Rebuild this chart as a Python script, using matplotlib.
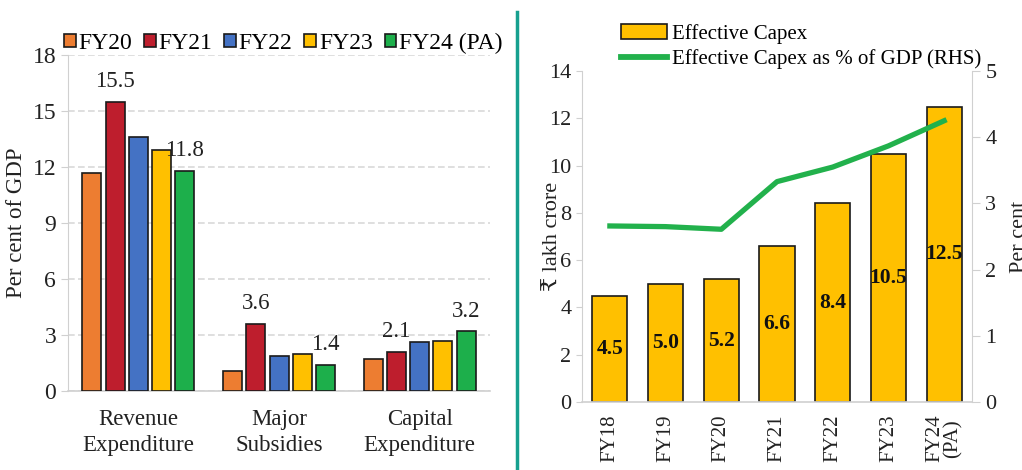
import numpy as np
import matplotlib
matplotlib.use("Agg")
import matplotlib.pyplot as plt
from matplotlib.patches import Patch
from matplotlib.lines import Line2D

plt.rcParams['font.family'] = ['Liberation Serif', 'DejaVu Serif']

# left panel data
groups = ["Revenue\nExpenditure", "Major\nSubsidies", "Capital\nExpenditure"]
years = ["FY20", "FY21", "FY22", "FY23", "FY24 (PA)"]
fy20 = [11.7, 1.1, 1.7]
fy21 = [15.5, 3.6, 2.1]
fy22 = [13.6, 1.9, 2.6]
fy23 = [12.9, 2.0, 2.7]
fy24 = [11.8, 1.4, 3.2]
bar_colors = ["#ED7D31", "#BE1E2D", "#4472C4", "#FFC000", "#1DAF4B"]
labelled = {1: [0, 1, 2], 4: [0, 1, 2]}  # series index -> groups with value label

# right panel data
cap_years = ["FY18", "FY19", "FY20", "FY21", "FY22", "FY23", "FY24\n(PA)"]
eff_capex = [4.5, 5.0, 5.2, 6.6, 8.4, 10.5, 12.5]
capex_pct_gdp = [2.66, 2.65, 2.61, 3.33, 3.55, 3.87, 4.25]

fig = plt.figure(figsize=(10.22, 4.70), dpi=100)
grey = "#d0d0d0"
txt = "#222222"

# ---- left chart ----
ax = fig.add_axes([0.0665, 0.168, 0.413, 0.715])
series = [fy20, fy21, fy22, fy23, fy24]
x = np.arange(len(groups))
step, w = 0.165, 0.135
for i, vals in enumerate(series):
    pos = x + (i - 2) * step
    ax.bar(pos, vals, width=w, color=bar_colors[i], edgecolor="#1a1a1a",
           linewidth=1.2, zorder=3, label=years[i])
    for g in labelled.get(i, []):
        ax.annotate(f"{vals[g]:.1f}", (pos[g], vals[g]), xytext=(0, 7),
                    textcoords="offset points", ha="center", va="bottom",
                    fontsize=16.5, color=txt, zorder=4)
ax.set_xlim(-0.5, 2.5)
ax.set_ylim(0, 18)
ax.set_yticks(range(0, 19, 3))
ax.set_xticks(x)
ax.set_xticklabels(groups, fontsize=16.5, color=txt, linespacing=1.3)
ax.tick_params(axis="y", labelsize=17, labelcolor=txt, color=grey, length=5)
ax.tick_params(axis="x", length=0, pad=13)
ax.yaxis.grid(True, linestyle=(0, (4, 2)), color="#d9d9d9", linewidth=1.2, zorder=0)
for s in ["top", "right"]:
    ax.spines[s].set_visible(False)
ax.spines["left"].set_color(grey)
ax.spines["bottom"].set_color(grey)
ax.spines["bottom"].set_linewidth(1.2)
ax.set_ylabel("Per cent of GDP", fontsize=16.5, color=txt)
ax.yaxis.set_label_coords(-0.097, 0.5)
handles = [Patch(facecolor=c, edgecolor="#1a1a1a", linewidth=1.2) for c in bar_colors]
ax.legend(handles, years, loc="center", bbox_to_anchor=(0.51, 1.035), ncol=5,
          frameon=False, fontsize=17, handlelength=0.5, handleheight=0.5,
          handletextpad=0.12, columnspacing=0.5, borderaxespad=0)

# separator
fig.add_artist(Line2D([517 / 1022, 517 / 1022], [0, 0.974], color="#17A08F",
                      linewidth=2.5, transform=fig.transFigure))

# ---- right chart ----
ax1 = fig.add_axes([0.5695, 0.1447, 0.3816, 0.704])
xc = np.arange(len(cap_years))
ax1.bar(xc, eff_capex, width=0.63, color="#FFC000", edgecolor="#1a1a1a",
        linewidth=1.2, zorder=2)
for xi, v in zip(xc, eff_capex):
    ax1.text(xi, v / 2, f"{v:.1f}", ha="center", va="center", fontsize=15.5,
             fontweight="bold", color="#111111", zorder=3)
ax1.set_xlim(-0.5, 6.5)
ax1.set_ylim(0, 14)
ax1.set_yticks(range(0, 15, 2))
ax1.set_xticks(xc)
ax1.set_xticklabels(cap_years, rotation=90, fontsize=15, color=txt,
                    linespacing=0.9)
ax1.tick_params(axis="y", labelsize=16, labelcolor=txt, color=grey, length=4)
ax1.tick_params(axis="x", length=0, pad=9)
ax1.set_ylabel("₹ lakh crore", fontsize=16, color=txt)
ax1.yaxis.set_label_coords(-0.05, 0.5)
for s in ["top", "right"]:
    ax1.spines[s].set_visible(False)
ax1.spines["left"].set_color(grey)
ax1.spines["bottom"].set_color(grey)
ax1.spines["bottom"].set_linewidth(1.2)

ax2 = ax1.twinx()
ax2.plot(xc, capex_pct_gdp, color="#22B14C", linewidth=3.8, zorder=4)
ax2.set_ylim(0, 5)
ax2.set_yticks(range(0, 6))
ax2.tick_params(axis="y", labelsize=16, labelcolor=txt, color=grey, length=6)
ax2.set_ylabel("Per cent", fontsize=16, color=txt, labelpad=10)
for s in ["top", "left"]:
    ax2.spines[s].set_visible(False)
ax2.spines["right"].set_color(grey)
ax2.spines["bottom"].set_visible(False)

h = [Patch(facecolor="#FFC000", edgecolor="#1a1a1a", linewidth=1.2),
     Line2D([0], [0], color="#22B14C", linewidth=4.2)]
ax2.legend(h, ["Effective Capex", "Effective Capex as % of GDP (RHS)"],
           loc="lower left", bbox_to_anchor=(0.095, 1.0), frameon=False,
           fontsize=15, handlelength=2.2, handleheight=0.7,
           handletextpad=0.25, labelspacing=0.25, borderaxespad=0,
           borderpad=0.1)

fig.savefig("out.png", dpi=100)
